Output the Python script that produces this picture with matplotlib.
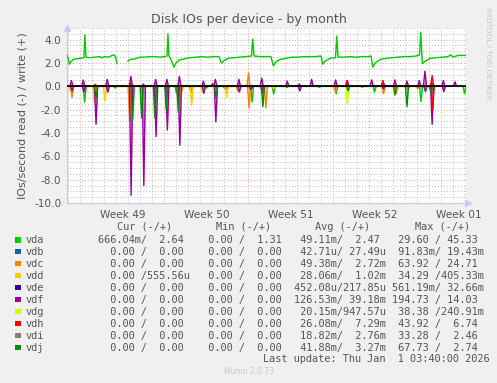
import numpy as np
import matplotlib
matplotlib.use("Agg")
import matplotlib.pyplot as plt
from matplotlib.patches import Rectangle

W, H = 497, 383

# devices and munin colours
devices = ['vda', 'vdb', 'vdc', 'vdd', 'vde', 'vdf', 'vdg', 'vdh', 'vdi', 'vdj']
colors = ['#00CC00', '#0066B3', '#FF8000', '#FFCC00', '#330099',
          '#990099', '#CCFF00', '#FF0000', '#808080', '#008F00']

# vda write (+) line, days from Mon Dec 1 (week 49); nan = no data
vda_w_day = [-1.12, -1.0, -0.92, -0.79, -0.62, -0.37, -0.04, 0.29, 0.37, 0.46, 0.79, 1.21, 1.62, 1.79,
             2.04, 2.29, 2.54, 2.79, 2.92, 3.04, 3.5, 3.96, 4.12, 4.54, 4.96, 5.37, 5.79, 6.21, 6.62,
             7.04, 7.21, 7.29, 7.37, 7.54, 7.79, 7.96, 8.21, 8.62, 9.12, 9.62, 10.12, 10.62, 11.12,
             11.54, 11.75, 11.96, 12.29, 12.79, 13.29, 13.79, 14.25, 14.35, 14.46, 14.96, 15.46,
             15.87, 16.07, 16.29, 16.62, 17.12, 17.62, 18.12, 18.62, 19.12, 19.62, 20.04, 20.18,
             20.37, 20.79, 21.25, 21.35, 21.46, 21.96, 22.46, 22.96, 23.46, 23.96, 24.21, 24.35,
             24.54, 24.96, 25.46, 25.96, 26.46, 26.96, 27.46, 27.96, 28.25, 28.35, 28.48, 28.71,
             29.12, 29.62, 30.12, 30.62, 30.87, 31.0, 31.46, 31.79, 32.12]
vda_w_val = [2.67, 2.3, 1.9, 2.1, 2.3, 2.35, 2.4, 2.45, 4.4, 2.5, 2.45, 2.5, 2.55, 2.45,
             2.55, 2.5, 2.6, 2.7, 2.55, 1.95, np.nan, 2.15, 2.3, 2.35, 2.5, 2.5, 2.55, 2.55, 2.5,
             2.55, 2.6, 4.5, 2.6, 2.3, 1.65, 2.0, 2.25, 2.35, 2.45, 2.5, 2.55, 2.5, 2.55,
             2.55, 2.0, 2.2, 2.4, 2.45, 2.5, 2.55, 2.6, 4.05, 2.6, 2.55, 2.55,
             2.55, 1.75, 2.1, 2.3, 2.4, 2.5, 2.5, 2.55, 2.55, 2.55, 2.6, 1.9,
             2.15, 2.4, 2.45, 4.3, 2.5, 2.5, 2.55, 2.5, 2.55, 2.55, 2.6, 1.65,
             2.0, 2.3, 2.4, 2.45, 2.5, 2.55, 2.55, 2.6, 2.7, 4.65, 1.95, 2.15,
             2.4, 2.45, 2.5, 2.55, 2.7, 2.5, 2.65, 2.65, 2.65]

# short peaks per device: day, value (read negative, write positive)
peaks = {
    'vda': ([0.35, 1.2, 2.9, 7.2, 8.0, 10.5, 12.0, 14.3, 16.1, 17.2, 19.9, 21.3, 24.5, 28.37, 32.0],
            [-1.35, -0.5, -0.15, -0.5, -0.6, -0.15, -0.15, -1.35, -0.65, -0.1, -0.1, -0.65, -0.5, -1.3, -0.65]),
    'vdc': ([-0.7, 1.2, 4.1, 6.2, 8.4, 9.2, 10.2, 12.1, 13.1, 14.0, 14.05, 15.45, 16.15, 21.26, 23.5,
             25.25, 26.3, 27.3, 28.1, 30.3],
            [-0.95, -1.2, -2.95, -0.85, -0.6, -0.55, -0.3, -0.3, -0.4, 1.15, -1.85, -1.85, -0.2, -0.5, -0.1,
             -0.65, -0.65, -0.3, -0.2, -0.25]),
    'vdd': ([-0.85, 1.15, 2.04, 5.2, 8.24, 9.26, 10.15, 12.18, 16.1],
            [-0.45, -1.4, -1.25, -0.3, -1.7, -1.6, -0.5, -0.95, -0.2]),
    'vdf': ([-0.75, -0.7, 0.23, 0.28, 1.26, 1.3, 2.23, 2.28, 4.2, 4.22, 5.24, 5.28, 6.26, 6.3, 7.2, 7.24,
             8.24, 8.28, 10.24, 10.28, 11.24, 11.28, 13.2, 13.24, 14.2, 15.1, 15.14, 17.23, 18.23, 18.27,
             19.26, 21.26, 22.24, 24.26, 25.2, 25.24, 26.2, 27.2, 28.23, 28.7, 28.74, 29.26, 29.3,
             30.23, 30.27, 31.2],
            [0.5, -0.4, 0.55, -0.5, 0.15, -3.25, 0.6, -0.5, 0.85, -9.35, 0.2, -8.5, 0.6, -4.3, 0.6, -3.75,
             0.85, -5.05, 0.45, -0.6, 0.6, -3.05, 0.6, -0.5, -0.3, 0.7, -0.6, 0.45, 0.2, -0.4,
             0.6, 0.55, 0.5, 0.55, 0.4, -0.2, 0.55, 0.45, 0.5, 1.3, -0.45, 0.3, -3.25,
             0.5, -0.45, 0.4]),
    'vdg': ([22.24], [-1.55]),
    'vdh': ([1.2, 4.2, 11.0, 22.2, 25.2, 29.3, 29.34],
            [0.15, 0.3, 0.25, 0.5, 0.5, 0.93, -2.0]),
    'vdj': ([1.3, 4.35, 5.1, 6.2, 7.15, 8.15, 11.3, 15.2, 22.3, 26.2, 27.2, 29.2],
            [-1.0, -2.9, -2.7, -2.7, -2.0, -2.2, -1.0, -1.75, -0.4, -0.75, -1.75, -0.6]),
}

# legend table values
cur = ['666.04m/  2.64 ', '  0.00 /  0.00 ', '  0.00 /  0.00 ', '  0.00 /555.56u', '  0.00 /  0.00 ',
       '  0.00 /  0.00 ', '  0.00 /  0.00 ', '  0.00 /  0.00 ', '  0.00 /  0.00 ', '  0.00 /  0.00 ']
mins = ['  0.00 /  1.31 ', '  0.00 /  0.00 ', '  0.00 /  0.00 ', '  0.00 /  0.00 ', '  0.00 /  0.00 ',
        '  0.00 /  0.00 ', '  0.00 /  0.00 ', '  0.00 /  0.00 ', '  0.00 /  0.00 ', '  0.00 /  0.00 ']
avgs = [' 49.11m/  2.47 ', ' 42.71u/ 27.49u', ' 49.38m/  2.72m', ' 28.06m/  1.02m', '452.08u/217.85u',
        '126.53m/ 39.18m', ' 20.15m/947.57u', ' 26.08m/  7.29m', ' 18.82m/  2.76m', ' 41.88m/  3.27m']
maxs = [' 29.60 / 45.33 ', ' 91.83m/ 19.43m', ' 63.92 / 24.71 ', ' 34.29 /405.33m', '561.19m/ 32.66m',
        '194.73 / 14.03 ', ' 38.38 /240.91m', ' 43.92 /  6.74 ', ' 33.28 /  2.46 ', ' 67.73 /  2.74 ']

week_labels = ['Week 49', 'Week 50', 'Week 51', 'Week 52', 'Week 01']

fig = plt.figure(figsize=(W / 100, H / 100), dpi=100, facecolor='#F0F0F0')
ax = fig.add_axes([67 / W, 1 - 203 / H, (466 - 67) / W, (203 - 28) / H])
ax.set_facecolor('white')
ax.set_xlim(-1.12, 32.12)
ax.set_ylim(-10, 5)

# grid
dot = (0, (1, 2))
for d in range(-1, 33):
    ax.axvline(d, color='#EC9A9A' if d % 7 == 0 else '#BDBDBD', lw=0.7, ls=dot, zorder=0)
for v in np.arange(-10, 5.01, 0.5):
    ax.axhline(v, color='#EC9A9A' if v % 2 == 0 else '#BDBDBD', lw=0.7, ls=dot, zorder=0)


def spike_line(days, vals, hw=0.13):
    xs, ys = [], []
    for d, v in sorted(zip(days, vals)):
        xs += [d - hw, d, d + hw]
        ys += [0, v, 0]
    return np.array(xs), np.array(ys)


for name, col in zip(devices, colors):
    if name in peaks:
        xs, ys = spike_line(*peaks[name])
        ax.fill_between(xs, ys, 0, color=col, alpha=0.35, lw=0, zorder=2)
        ax.plot(xs, ys, color=col, lw=1.0, zorder=3)
    if name == 'vda':
        ax.plot(vda_w_day, vda_w_val, color=col, lw=1.0, zorder=3)

ax.axhline(0, color='black', lw=1.2, zorder=5)

for s in ['top', 'right']:
    ax.spines[s].set_visible(False)
for s in ['left', 'bottom']:
    ax.spines[s].set_color('#C8C8F0')
    ax.spines[s].set_linewidth(0.8)
ax.plot(0, 1.0, marker='^', color='#C8C8F8', ms=4, transform=ax.transAxes, clip_on=False)
ax.plot(1.005, 0, marker='>', color='#C8C8F8', ms=4, transform=ax.transAxes, clip_on=False)

ax.set_yticks(np.arange(-10, 4.1, 2))
ax.set_yticklabels(['%.1f' % v for v in np.arange(-10, 4.1, 2)])
ax.set_xticks([3.5, 10.5, 17.5, 24.5, 31.5])
ax.set_xticklabels(week_labels)
ax.tick_params(axis='both', length=0, labelsize=7.6, colors='#555555', pad=4)
ax.tick_params(axis='x', pad=5)

ax.set_ylabel('IOs/second read (-) / write (+)', fontsize=8.0, color='#555555', labelpad=5)
fig.text(249 / W, 1 - 19 / H, 'Disk IOs per device - by month', ha='center', va='center',
         fontsize=9.1, color='#555555')
fig.text(488 / W, 1 - 53 / H, 'RRDTOOL / TOBI OETIKER', rotation=270, ha='center', va='center',
         fontsize=5.2, color='#C4C4C4')

# legend table
mono = 'DejaVu Sans Mono'
fs = 7.4
cw = 6.2
x0 = 98
row0 = 240
dy = 11.95
heads = ['Cur (-/+)', 'Min (-/+)', 'Avg (-/+)', 'Max (-/+)']
for i, h in enumerate(heads):
    fig.text((x0 + i * 16 * cw + 7.5 * cw) / W, 1 - 226.7 / H, h, ha='center', va='center',
             family=mono, fontsize=fs, color='#555555')
for i, (name, col) in enumerate(zip(devices, colors)):
    y = row0 + i * dy
    fig.add_artist(Rectangle((15 / W, 1 - (y + 2.5) / H), 5.5 / W, 5.5 / H, transform=fig.transFigure,
                             facecolor=col, edgecolor='none'))
    fig.text(26 / W, 1 - y / H, name, ha='left', va='center', family=mono, fontsize=fs, color='#555555')
    row = cur[i] + ' ' + mins[i] + ' ' + avgs[i] + ' ' + maxs[i]
    fig.text(x0 / W, 1 - y / H, row, ha='left', va='center', family=mono, fontsize=fs, color='#555555')

fig.text(490 / W, 1 - 359.5 / H, 'Last update: Thu Jan  1 03:40:00 2026', ha='right', va='center',
         family=mono, fontsize=fs, color='#555555')
fig.text(249 / W, 1 - 371 / H, 'Munin 2.0.73', ha='center', va='center', fontsize=5.5, color='#C8C8C8')

fig.savefig('out.png', dpi=100, facecolor=fig.get_facecolor())
